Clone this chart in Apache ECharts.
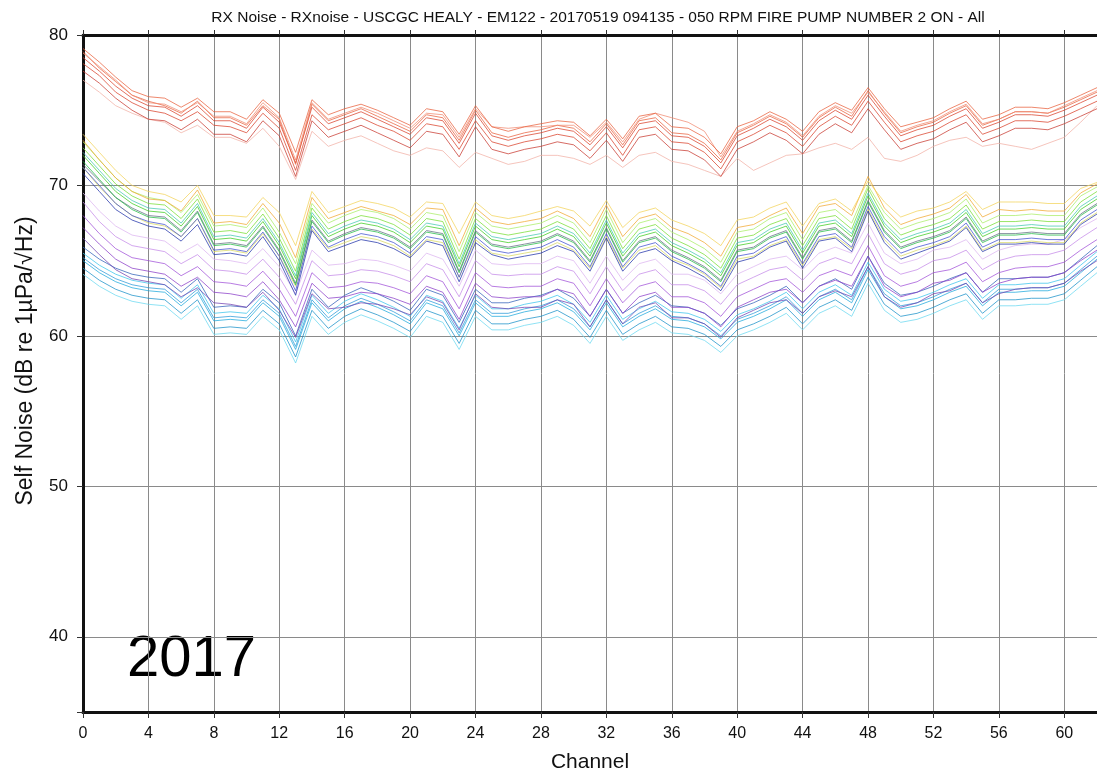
<!DOCTYPE html>
<html>
<head>
<meta charset="utf-8">
<script src="https://cdn.jsdelivr.net/npm/echarts@6/dist/echarts.min.js"></script>
<style>
html,body{margin:0;padding:0;background:#fff;}
#chart{width:1097px;height:778px;}
</style>
</head>
<body>
<div id="chart"></div>
<script>
const titleText = 'RX Noise - RXnoise - USCGC HEALY - EM122 - 20170519 094135 - 050 RPM FIRE PUMP NUMBER 2 ON - All';
const yTickLabels = [40, 50, 60, 70, 80];
const channels = [0,1,2,3,4,5,6,7,8,9,10,11,12,13,14,15,16,17,18,19,20,21,22,23,24,25,26,27,28,29,30,31,32,33,34,35,36,37,38,39,40,41,42,43,44,45,46,47,48,49,50,51,52,53,54,55,56,57,58,59,60,61,62];

// Red band (top group)
const red1 = [79.1,78.2,77.2,76.3,75.9,75.8,75.2,75.8,74.9,74.9,74.4,75.7,74.8,72.2,75.7,74.7,75.1,75.4,75.0,74.5,74.0,75.1,74.9,73.4,75.3,73.9,73.6,73.9,74.1,74.3,74.2,73.3,74.4,73.1,74.6,74.8,73.9,73.8,73.2,72.1,73.9,74.3,74.9,74.4,73.6,74.9,75.5,75.0,76.5,75.1,73.9,74.2,74.5,75.1,75.6,74.4,74.7,75.2,75.2,75.1,75.5,76.0,76.5];
const red2 = [78.5,77.6,76.6,75.8,75.3,75.2,74.6,75.3,74.3,74.3,73.8,75.2,74.2,71.5,75.2,74.1,74.5,74.9,74.4,73.9,73.4,74.5,74.3,72.8,74.8,73.3,73.0,73.3,73.5,73.8,73.6,72.7,73.9,72.5,74.1,74.3,73.3,73.2,72.6,71.5,73.3,73.8,74.4,73.9,73.0,74.3,75.0,74.4,76.0,74.6,73.3,73.7,74.0,74.6,75.1,73.8,74.2,74.7,74.7,74.6,75.0,75.5,76.0];
const red3 = [78.1,77.3,76.2,75.5,75.0,74.8,74.3,74.9,74.0,73.9,73.5,74.8,73.8,71.0,74.7,73.7,74.1,74.5,74.0,73.6,73.0,74.1,73.9,72.4,74.3,72.9,72.6,72.9,73.1,73.4,73.2,72.3,73.5,72.0,73.7,73.9,72.9,72.8,72.2,71.1,72.9,73.4,74.0,73.5,72.6,73.9,74.6,74.0,75.6,74.2,72.9,73.3,73.6,74.2,74.7,73.4,73.8,74.3,74.3,74.2,74.6,75.1,75.6];
const red4 = [78.8,77.9,77.0,76.0,75.5,75.4,74.9,75.5,74.6,74.6,74.1,75.5,74.5,71.7,75.5,74.4,74.8,75.2,74.8,74.3,73.8,74.8,74.7,73.2,75.1,73.9,73.8,73.9,73.9,74.0,74.0,73.2,74.2,72.9,74.4,74.8,74.5,74.2,73.6,71.9,73.6,74.1,74.7,74.2,73.3,74.6,75.3,74.8,76.2,74.9,73.6,74.0,74.3,74.9,75.4,74.1,74.4,74.9,74.9,74.8,75.3,75.8,76.3];
const red5 = [77.6,76.8,75.8,75.0,74.4,74.3,73.7,74.4,73.4,73.4,72.9,74.3,73.3,70.6,74.3,73.2,73.6,74.0,73.5,73.0,72.5,73.6,73.4,71.9,73.9,72.4,72.1,72.4,72.6,72.9,72.7,71.8,73.0,71.6,73.2,73.4,72.4,72.3,71.7,70.6,72.4,72.9,73.5,73.0,72.1,73.4,74.1,73.5,75.1,73.7,72.4,72.8,73.1,73.7,74.2,72.9,73.3,73.8,73.8,73.7,74.1,74.6,75.1];
const red6 = [77.0,76.2,75.3,74.8,74.4,74.2,73.5,74.0,73.2,73.2,72.8,73.8,72.6,70.4,73.6,72.6,73.0,73.3,72.8,72.3,72.0,72.5,72.3,71.2,72.2,71.8,71.4,71.6,72.0,72.0,71.8,71.4,72.0,71.2,72.0,72.2,71.6,71.4,71.0,70.6,71.8,71.0,71.5,72.0,72.1,72.5,72.8,72.4,73.2,71.8,71.6,72.0,72.6,73.0,73.2,72.6,72.8,72.6,72.4,72.8,73.2,74.2,75.3];
const red7 = [78.9,77.8,76.9,76.0,75.6,75.3,74.8,75.6,74.5,74.5,74.0,75.3,74.4,71.4,75.4,74.3,74.7,75.1,74.6,74.1,73.6,74.7,74.5,73.0,75.0,73.5,73.2,73.5,73.7,74.0,73.8,72.9,74.1,72.7,74.3,74.5,73.5,73.4,72.8,71.7,73.5,74.0,74.6,74.1,73.2,74.5,75.2,74.6,76.3,74.8,73.5,73.9,74.2,74.8,75.3,74.0,74.4,74.9,74.9,74.8,75.2,75.7,76.2];

// Upper mixed band (green / yellow / blue)
const green1 = [72.0,70.8,69.6,68.8,68.3,68.2,67.3,68.6,66.4,66.5,66.3,67.6,66.0,63.8,68.0,66.6,67.1,67.5,67.3,66.9,66.2,67.3,67.1,64.6,67.3,66.4,66.2,66.4,66.6,67.1,66.6,65.3,67.5,65.3,66.6,66.9,66.0,65.5,64.9,64.0,66.0,66.2,66.9,67.3,65.5,67.3,67.5,66.6,69.3,67.3,66.2,66.6,66.9,67.3,68.2,66.6,67.1,67.1,67.2,67.1,67.1,68.4,69.1];
const green2 = [72.5,71.3,70.1,69.3,68.8,68.7,67.8,69.1,66.9,67.0,66.8,68.1,66.5,64.3,68.5,67.1,67.6,68.0,67.8,67.4,66.7,67.8,67.6,65.1,67.8,66.9,66.7,66.9,67.1,67.6,67.1,65.8,68.0,65.8,67.1,67.4,66.5,66.0,65.4,64.5,66.5,66.7,67.4,67.8,66.0,67.8,68.0,67.1,69.8,67.8,66.7,67.1,67.4,67.8,68.7,67.1,67.6,67.6,67.7,67.6,67.6,68.9,69.6];
const green3 = [71.6,70.4,69.2,68.4,67.9,67.8,66.9,68.2,66.0,66.1,65.9,67.2,65.6,63.4,67.6,66.2,66.7,67.1,66.9,66.5,65.8,66.9,66.7,64.2,66.9,66.0,65.8,66.0,66.2,66.7,66.2,64.9,67.1,64.9,66.2,66.5,65.6,65.1,64.5,63.6,65.6,65.8,66.5,66.9,65.1,66.9,67.1,66.2,68.9,66.9,65.8,66.2,66.5,66.9,67.8,66.2,66.7,66.7,66.8,66.7,66.7,68.0,68.7];
const green4 = [72.9,71.7,70.5,69.6,69.2,69.0,68.2,69.4,67.3,67.4,67.2,68.5,66.9,64.8,68.8,67.5,68.0,68.4,68.2,67.8,67.1,68.2,68.0,65.6,68.2,67.3,67.1,67.3,67.5,68.0,67.5,66.2,68.4,66.2,67.5,67.8,66.9,66.4,65.8,64.9,66.9,67.1,67.8,68.2,66.4,68.2,68.4,67.5,70.0,68.2,67.1,67.5,67.8,68.2,69.1,67.5,68.0,68.0,68.1,68.0,68.0,69.3,69.9];
const yellow1 = [73.4,72.2,71.0,70.0,69.6,69.4,68.9,70.0,68.0,68.0,67.9,69.2,68.2,66.0,69.6,68.2,68.6,69.0,68.8,68.5,67.9,68.9,68.8,66.8,68.9,68.0,67.8,68.0,68.3,68.6,68.3,67.3,69.0,67.2,68.2,68.5,67.7,67.3,66.8,66.0,67.7,67.9,68.5,68.9,67.3,68.8,69.1,68.3,70.3,68.9,67.9,68.3,68.5,68.9,69.6,68.4,68.9,68.9,68.9,68.8,68.8,69.8,70.2];
const orange1 = [73.0,71.7,70.5,69.6,69.1,69.0,68.3,69.7,67.5,67.6,67.4,68.8,67.5,65.2,69.2,67.8,68.2,68.6,68.3,68.0,67.4,68.5,68.4,66.0,68.5,67.6,67.4,67.6,67.8,68.3,67.8,66.6,68.7,66.6,67.8,68.1,67.2,66.8,66.2,65.3,67.2,67.4,68.0,68.5,66.8,68.6,68.8,68.0,70.6,68.5,67.4,67.8,68.1,68.5,69.4,67.9,68.4,68.3,68.4,68.3,68.3,69.5,70.1];
const yellow2 = [71.2,69.9,68.8,68.0,67.5,67.3,66.6,67.8,65.6,65.7,65.5,66.8,65.3,63.3,67.1,65.8,66.2,66.6,66.4,66.0,65.3,66.4,66.2,63.9,66.4,65.5,65.3,65.5,65.7,66.2,65.7,64.5,66.6,64.5,65.7,66.0,65.1,64.7,64.1,63.2,65.1,65.3,66.0,66.4,64.7,66.4,66.6,65.8,68.4,66.4,65.3,65.7,66.0,66.4,67.3,65.7,66.2,66.2,66.3,66.2,66.2,67.5,68.2];
const blue1 = [71.2,70.0,68.8,68.0,67.6,67.4,66.6,67.8,65.7,65.8,65.6,66.9,65.3,63.0,67.3,65.9,66.4,66.8,66.6,66.2,65.5,66.6,66.4,63.9,66.6,65.7,65.5,65.7,65.9,66.4,65.9,64.6,66.8,64.6,65.9,66.2,65.3,64.8,64.2,63.3,65.3,65.5,66.2,66.6,64.8,66.6,66.8,65.9,68.6,66.6,65.5,65.9,66.2,66.6,67.5,65.9,66.4,66.4,66.5,66.4,66.4,67.7,68.4];
const blue2 = [70.8,69.6,68.4,67.7,67.3,67.1,66.3,67.4,65.4,65.5,65.3,66.6,65.0,62.7,67.0,65.6,66.0,66.4,66.2,65.8,65.2,66.3,66.0,63.6,66.2,65.4,65.1,65.3,65.5,66.0,65.6,64.3,66.5,64.3,65.5,65.8,65.0,64.5,63.9,63.0,64.9,65.2,65.9,66.3,64.5,66.3,66.5,65.6,68.3,66.2,65.1,65.5,65.9,66.3,67.2,65.6,66.1,66.1,66.2,66.1,66.1,67.4,68.1];
const slate1 = [71.4,70.3,69.2,68.5,68.0,67.9,67.0,68.3,66.1,66.2,66.0,67.3,65.7,63.5,67.7,66.3,66.8,67.2,67.0,66.6,65.9,67.0,66.8,64.3,67.0,66.1,65.9,66.1,66.3,66.8,66.3,65.0,67.2,65.0,66.3,66.6,65.7,65.2,64.6,63.7,65.7,65.9,66.6,67.0,65.2,67.0,67.2,66.3,69.0,67.0,65.9,66.3,66.6,67.0,67.9,66.3,66.8,66.8,66.9,66.8,66.8,68.1,68.8];
const teal1 = [72.2,71.0,69.8,69.0,68.5,68.4,67.5,68.8,66.6,66.7,66.5,67.8,66.2,64.0,68.2,66.8,67.3,67.7,67.5,67.1,66.4,67.5,67.3,64.8,67.5,66.6,66.4,66.6,66.8,67.3,66.8,65.5,67.7,65.5,66.8,67.1,66.2,65.7,65.1,64.2,66.2,66.4,67.1,67.5,65.7,67.5,67.7,66.8,69.5,67.5,66.4,66.8,67.1,67.5,68.4,66.8,67.3,67.3,67.4,67.3,67.3,68.6,69.3];

// Purple band
const purple1 = [68.0,66.8,65.8,65.2,65.0,64.8,64.0,64.6,63.6,63.5,63.3,64.3,63.1,61.3,64.2,63.2,63.3,63.6,63.5,63.2,62.8,64.0,63.6,61.8,64.2,63.3,63.2,63.3,63.3,63.8,63.5,62.0,63.8,62.2,63.3,63.6,62.6,62.6,62.2,61.3,62.6,63.1,63.6,63.8,62.9,64.0,64.4,64.0,66.0,64.0,63.3,63.6,64.2,64.4,64.9,63.6,64.2,64.5,64.6,64.6,64.9,65.7,66.4];
const purple2 = [68.9,67.6,66.6,66.0,65.8,65.6,64.8,65.4,64.4,64.3,64.1,65.1,63.9,62.1,65.0,64.0,64.1,64.4,64.3,64.0,63.6,64.8,64.4,62.6,65.0,64.1,64.0,64.1,64.1,64.6,64.3,62.8,64.6,63.0,64.1,64.4,63.4,63.4,63.0,62.1,63.4,63.9,64.4,64.6,63.7,64.8,65.2,64.8,66.8,64.8,64.1,64.4,65.0,65.2,65.7,64.4,65.0,65.3,65.4,65.4,65.7,66.5,67.2];
const purple3 = [67.2,66.1,65.1,64.5,64.3,64.1,63.3,63.9,62.9,62.8,62.6,63.6,62.4,60.6,63.5,62.5,62.6,62.9,62.8,62.5,62.1,63.3,62.9,61.1,63.5,62.6,62.5,62.6,62.6,63.1,62.8,61.3,63.1,61.5,62.6,62.9,61.9,61.9,61.5,60.6,61.9,62.4,62.9,63.1,62.2,63.3,63.7,63.3,65.3,63.3,62.6,62.9,63.5,63.7,64.2,62.9,63.5,63.8,63.9,63.9,64.2,65.0,65.7];
const purple4 = [69.5,68.3,67.3,66.7,66.5,66.3,65.5,66.1,65.1,65.0,64.8,65.8,64.6,62.8,65.7,64.7,64.8,65.1,65.0,64.7,64.3,65.5,65.1,63.3,65.7,64.8,64.7,64.8,64.8,65.3,65.0,63.5,65.3,63.7,64.8,65.1,64.1,64.1,63.7,62.8,64.1,64.6,65.1,65.3,64.4,65.5,65.9,65.5,67.5,65.5,64.8,65.1,65.7,65.9,66.4,65.1,65.7,66.0,66.1,66.1,66.4,67.2,67.8];
const purple5 = [66.5,65.4,64.4,63.8,63.6,63.4,62.6,63.2,62.2,62.1,61.9,62.9,61.7,59.9,62.8,61.8,61.9,62.2,62.1,61.8,61.4,62.6,62.2,60.4,62.8,61.9,61.8,61.9,61.9,62.4,62.1,60.6,62.4,60.8,61.9,62.2,61.2,61.2,60.8,59.9,61.2,61.7,62.2,62.4,61.5,62.6,63.0,62.6,64.6,62.6,61.9,62.2,62.8,63.0,63.5,62.2,62.8,63.1,63.2,63.2,63.5,64.3,65.0];

// Cyan band (lowest)
const cyan1 = [65.0,64.2,63.6,63.2,63.0,62.9,62.0,62.9,61.0,61.1,61.0,62.2,61.3,59.1,62.2,61.0,61.8,62.3,61.9,61.4,60.8,62.2,61.8,60.0,62.2,61.3,61.3,61.6,61.8,62.2,61.6,60.4,62.2,60.6,61.3,61.8,61.1,61.0,60.6,59.8,60.9,61.3,61.8,62.4,61.3,62.4,62.9,62.2,64.4,62.6,61.8,62.0,62.4,62.9,63.3,62.0,62.9,62.9,63.0,63.0,63.3,64.2,65.1];
const cyan2 = [65.5,64.7,64.1,63.7,63.5,63.4,62.5,63.4,61.5,61.6,61.5,62.7,61.8,59.6,62.7,61.5,62.3,62.8,62.4,61.9,61.3,62.7,62.3,60.5,62.7,61.8,61.8,62.1,62.3,62.7,62.1,60.9,62.7,61.1,61.8,62.3,61.6,61.5,61.1,60.3,61.4,61.8,62.3,62.9,61.8,62.9,63.4,62.7,64.9,63.1,62.3,62.5,62.9,63.4,63.8,62.5,63.4,63.4,63.5,63.5,63.8,64.7,65.6];
const cyan3 = [64.5,63.7,63.1,62.7,62.5,62.4,61.5,62.4,60.5,60.6,60.5,61.7,60.8,58.6,61.7,60.5,61.3,61.8,61.4,60.9,60.3,61.7,61.3,59.5,61.7,60.8,60.8,61.1,61.3,61.7,61.1,59.9,61.7,60.1,60.8,61.3,60.6,60.5,60.1,59.3,60.4,60.8,61.3,61.9,60.8,61.9,62.4,61.7,63.9,62.1,61.3,61.5,61.9,62.4,62.8,61.5,62.4,62.4,62.5,62.5,62.8,63.7,64.6];
const cyan4 = [65.9,65.1,64.5,64.1,63.9,63.8,62.9,63.8,61.9,62.0,61.9,63.1,62.2,60.0,63.1,61.9,62.7,63.2,62.8,62.3,61.7,63.1,62.7,60.9,63.1,62.2,62.2,62.5,62.7,63.1,62.5,61.3,63.1,61.5,62.2,62.7,62.0,61.9,61.5,60.7,61.8,62.2,62.7,63.3,62.2,63.3,63.8,63.1,65.3,63.5,62.7,62.9,63.3,63.8,64.2,62.9,63.8,63.8,63.9,63.9,64.2,65.1,66.0];
const cyan5 = [64.1,63.3,62.7,62.3,62.1,62.0,61.1,62.0,60.1,60.2,60.1,61.3,60.4,58.2,61.3,60.1,60.9,61.4,61.0,60.5,59.9,61.3,60.9,59.1,61.3,60.4,60.4,60.7,60.9,61.3,60.7,59.5,61.3,59.7,60.4,60.9,60.2,60.1,59.7,58.9,60.0,60.4,60.9,61.5,60.4,61.5,62.0,61.3,63.5,61.7,60.9,61.1,61.5,62.0,62.4,61.1,62.0,62.0,62.1,62.1,62.4,63.3,64.2];
const cyan6 = [65.2,64.4,63.8,63.4,63.2,63.1,62.2,63.1,61.2,61.3,61.2,62.4,61.5,59.3,62.4,61.2,62.0,62.5,62.1,61.6,61.0,62.4,62.0,60.2,62.4,61.5,61.5,61.8,62.0,62.4,61.8,60.6,62.4,60.8,61.5,62.0,61.3,61.2,60.8,60.0,61.1,61.5,62.0,62.6,61.5,62.6,63.1,62.4,64.6,62.8,62.0,62.2,62.6,63.1,63.5,62.2,63.1,63.1,63.2,63.2,63.5,64.4,65.3];

const lines = [
  {name:'cyan5', v:cyan5, c:'#6ad8f0'},
  {name:'cyan3', v:cyan3, c:'#1890c8'},
  {name:'cyan1', v:cyan1, c:'#1ea8dc'},
  {name:'cyan6', v:cyan6, c:'#2a9ad8'},
  {name:'cyan2', v:cyan2, c:'#3ac4ec'},
  {name:'cyan4', v:cyan4, c:'#3060b8'},
  {name:'purple5', v:purple5, c:'#7040b0'},
  {name:'purple3', v:purple3, c:'#8a3cc8'},
  {name:'purple1', v:purple1, c:'#a050d8'},
  {name:'purple2', v:purple2, c:'#c48ae8'},
  {name:'purple4', v:purple4, c:'#dcb4f0'},
  {name:'yellow2', v:yellow2, c:'#d8d860'},
  {name:'blue2', v:blue2, c:'#2233aa'},
  {name:'blue1', v:blue1, c:'#3f4fd0'},
  {name:'slate1', v:slate1, c:'#607080'},
  {name:'green3', v:green3, c:'#22bb44'},
  {name:'green1', v:green1, c:'#3dcc1f'},
  {name:'teal1', v:teal1, c:'#44c8b0'},
  {name:'green2', v:green2, c:'#77dd33'},
  {name:'green4', v:green4, c:'#aaee66'},
  {name:'orange1', v:orange1, c:'#f0a830'},
  {name:'yellow1', v:yellow1, c:'#f3d35a'},
  {name:'red6', v:red6, c:'#f2b0a5'},
  {name:'red5', v:red5, c:'#c83a30'},
  {name:'red3', v:red3, c:'#d9412b'},
  {name:'red2', v:red2, c:'#d9412b'},
  {name:'red7', v:red7, c:'#e8603c'},
  {name:'red4', v:red4, c:'#f08a70'},
  {name:'red1', v:red1, c:'#e8603c'}
];

const chart = echarts.init(document.getElementById('chart'), null, {renderer:'canvas'});
const FONT = 'Liberation Sans';
const tickStyle = {show: true, inside: false, length: 6, lineStyle: {color: '#333', width: 1}};
chart.setOption({
  animation: false,
  backgroundColor: '#ffffff',
  title: {
    text: titleText,
    left: 593, top: 5, textAlign: 'center',
    textStyle: {fontFamily: FONT, fontSize: 15.5, fontWeight: 'normal', color: '#111'}
  },
  grid: {
    left: 83, top: 35, width: 1017, height: 679, show: false
  },
  xAxis: [{
    type: 'value', min: 0, max: 62, interval: 4, position: 'bottom',
    name: 'Channel', nameLocation: 'middle', nameGap: 40,
    nameTextStyle: {fontFamily: FONT, fontSize: 21, color: '#111'},
    axisLine: {show: true, onZero: false, lineStyle: {color: '#111', width: 3}},
    axisTick: tickStyle,
    axisLabel: {fontFamily: FONT, fontSize: 16, color: '#111', margin: 14, showMaxLabel: false},
    splitLine: {show: true, lineStyle: {color: '#8a8a8a', width: 1}}
  }, {
    type: 'value', min: 0, max: 62, interval: 4, position: 'top',
    axisLine: {show: true, onZero: false, lineStyle: {color: '#111', width: 3}},
    axisTick: {show: true, inside: false, length: 5, lineStyle: {color: '#333', width: 1}},
    axisLabel: {show: false},
    splitLine: {show: false}
  }],
  yAxis: {
    type: 'value', min: 35, max: 80,
    axisLine: {show: true, onZero: false, lineStyle: {color: '#111', width: 3}},
    axisTick: tickStyle,
    axisLabel: {
      fontFamily: FONT, fontSize: 17, color: '#111', margin: 15,
      formatter: function (v) { return yTickLabels.indexOf(v) >= 0 ? String(v) : ''; }
    },
    splitLine: {show: true, lineStyle: {color: '#8a8a8a', width: 1}}
  },
  graphic: [
    {
      type: 'text', x: 26, y: 361, rotation: Math.PI / 2,
      style: {text: 'Self Noise (dB re 1µPa/√Hz)', fontFamily: FONT, fontSize: 23, fill: '#111',
              textAlign: 'center', textVerticalAlign: 'middle'}
    },
    {
      type: 'text', left: 127, top: 631,
      style: {text: '2017', fontFamily: FONT, fontSize: 58, fill: '#000'}
    }
  ],
  series: lines.map(function (l) {
    return {
      name: l.name, type: 'line', showSymbol: false, symbol: 'none',
      xAxisIndex: 0,
      data: channels.map(function (ch, i) { return [ch, l.v[i]]; }),
      lineStyle: {color: l.c, width: 1, opacity: 0.75},
      silent: true, z: 2
    };
  })
});
</script>
</body>
</html>
